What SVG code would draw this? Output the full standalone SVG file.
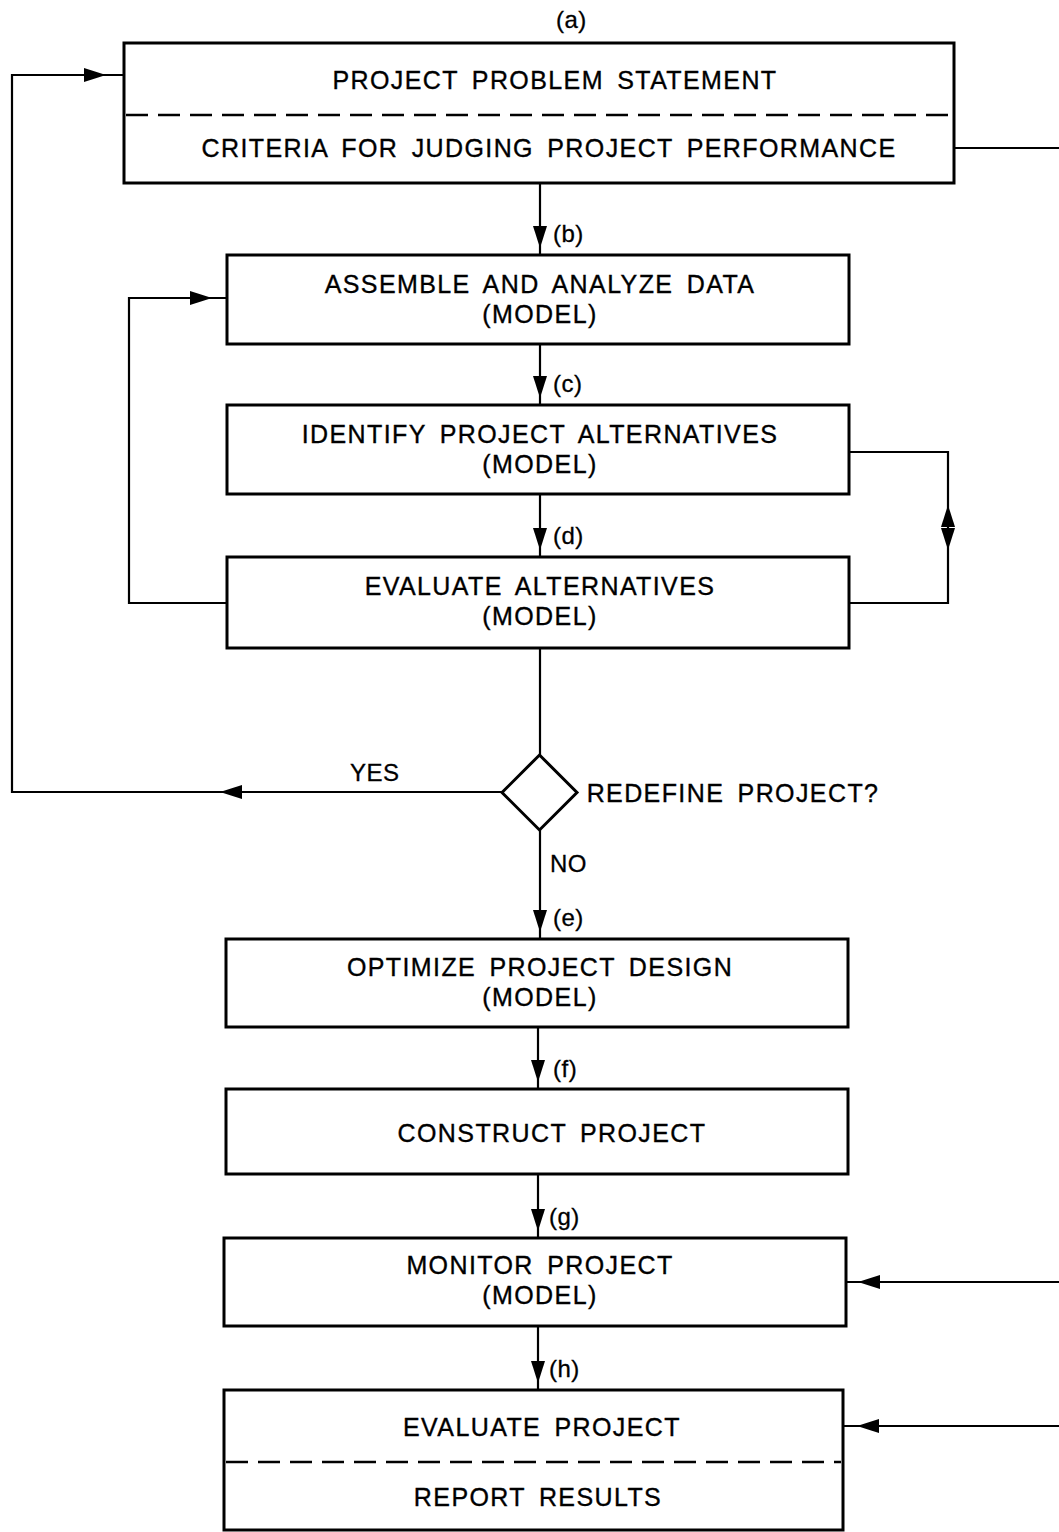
<svg xmlns="http://www.w3.org/2000/svg" width="1059" height="1532" viewBox="0 0 1059 1532">
<defs>
<style>
.box{fill:#fff;stroke:#000;stroke-width:3}
.dash{stroke:#000;stroke-width:2.5;stroke-dasharray:22,10;fill:none}
.t{font-family:"Liberation Sans",Arial,sans-serif;font-size:25px;letter-spacing:1.4px;word-spacing:5px;text-anchor:middle;fill:#000;stroke:#000;stroke-width:0.35}
.l{font-family:"Liberation Sans",Arial,sans-serif;font-size:24px;letter-spacing:0.5px;fill:#000;stroke:#000;stroke-width:0.3}
.c{fill:none;stroke:#000;stroke-width:2.2}
.ah{fill:#000}
</style>
<polygon id="arr" points="0,0 -22,-7 -22,7"/>
</defs>
<rect width="1059" height="1532" fill="#fff"/>

<g id="connectors">
<path class="c" d="M540,183 V255"/>
<path class="c" d="M540,344 V405"/>
<path class="c" d="M540,494 V557"/>
<path class="c" d="M540,648 V755"/>
<path class="c" d="M540,830 V939"/>
<path class="c" d="M538,1027 V1089"/>
<path class="c" d="M538,1174 V1238"/>
<path class="c" d="M538,1326 V1390"/>
<path class="c" d="M502,792 H12 V75 H124"/>
<path class="c" d="M227,603 H129 V298 H227"/>
<path class="c" d="M849,452 H948 V603 H849"/>
<path class="c" d="M954,148 H1059"/>
<path class="c" d="M1059,1282 H846"/>
<path class="c" d="M1059,1426 H843"/>
<use href="#arr" class="ah" transform="translate(540,248) rotate(90)"/>
<use href="#arr" class="ah" transform="translate(540,398) rotate(90)"/>
<use href="#arr" class="ah" transform="translate(540,550) rotate(90)"/>
<use href="#arr" class="ah" transform="translate(540,932) rotate(90)"/>
<use href="#arr" class="ah" transform="translate(538,1082) rotate(90)"/>
<use href="#arr" class="ah" transform="translate(538,1231) rotate(90)"/>
<use href="#arr" class="ah" transform="translate(538,1383) rotate(90)"/>
<use href="#arr" class="ah" transform="translate(106,75)"/>
<use href="#arr" class="ah" transform="translate(212,298)"/>
<use href="#arr" class="ah" transform="translate(220,792) rotate(180)"/>
<use href="#arr" class="ah" transform="translate(948,505) rotate(-90)"/>
<use href="#arr" class="ah" transform="translate(948,550) rotate(90)"/>
<use href="#arr" class="ah" transform="translate(858,1282) rotate(180)"/>
<use href="#arr" class="ah" transform="translate(857,1426) rotate(180)"/>
<text class="l" x="553" y="242">(b)</text>
<text class="l" x="553" y="392">(c)</text>
<text class="l" x="553" y="544">(d)</text>
<text class="l" x="553" y="926">(e)</text>
<text class="l" x="553" y="1077">(f)</text>
<text class="l" x="549" y="1225">(g)</text>
<text class="l" x="549" y="1377">(h)</text>
<text class="l" x="550" y="872" font-size="25">NO</text>
<text class="l" x="350" y="781" font-size="25">YES</text>
</g>

<text class="l" x="556" y="28">(a)</text>

<g id="node-problem">
<rect class="box" x="124" y="43" width="830" height="140"/>
<path class="dash" d="M126,115 H952"/>
<text class="t" x="555" y="89">PROJECT PROBLEM STATEMENT</text>
<text class="t" x="549" y="157">CRITERIA FOR JUDGING PROJECT PERFORMANCE</text>
</g>

<g id="node-assemble">
<rect class="box" x="227" y="255" width="622" height="89"/>
<text class="t" x="540" y="293">ASSEMBLE AND ANALYZE DATA</text>
<text class="t" x="540" y="323">(MODEL)</text>
</g>

<g id="node-identify">
<rect class="box" x="227" y="405" width="622" height="89"/>
<text class="t" x="540" y="443">IDENTIFY PROJECT ALTERNATIVES</text>
<text class="t" x="540" y="473">(MODEL)</text>
</g>

<g id="node-evaluate-alt">
<rect class="box" x="227" y="557" width="622" height="91"/>
<text class="t" x="540" y="595">EVALUATE ALTERNATIVES</text>
<text class="t" x="540" y="625">(MODEL)</text>
</g>

<g id="node-redefine">
<polygon class="box" points="539.5,755 577,792.5 539.5,830 502,792.5"/>
<text class="t" x="733" y="802">REDEFINE PROJECT?</text>
</g>

<g id="node-optimize">
<rect class="box" x="226" y="939" width="622" height="88"/>
<text class="t" x="540" y="976">OPTIMIZE PROJECT DESIGN</text>
<text class="t" x="540" y="1006">(MODEL)</text>
</g>

<g id="node-construct">
<rect class="box" x="226" y="1089" width="622" height="85"/>
<text class="t" x="552" y="1142">CONSTRUCT PROJECT</text>
</g>

<g id="node-monitor">
<rect class="box" x="224" y="1238" width="622" height="88"/>
<text class="t" x="540" y="1274">MONITOR PROJECT</text>
<text class="t" x="540" y="1304">(MODEL)</text>
</g>

<g id="node-evaluate-project">
<rect class="box" x="224" y="1390" width="619" height="140"/>
<path class="dash" d="M226,1462 H841"/>
<text class="t" x="542" y="1436">EVALUATE PROJECT</text>
<text class="t" x="538" y="1506">REPORT RESULTS</text>
</g>
</svg>
